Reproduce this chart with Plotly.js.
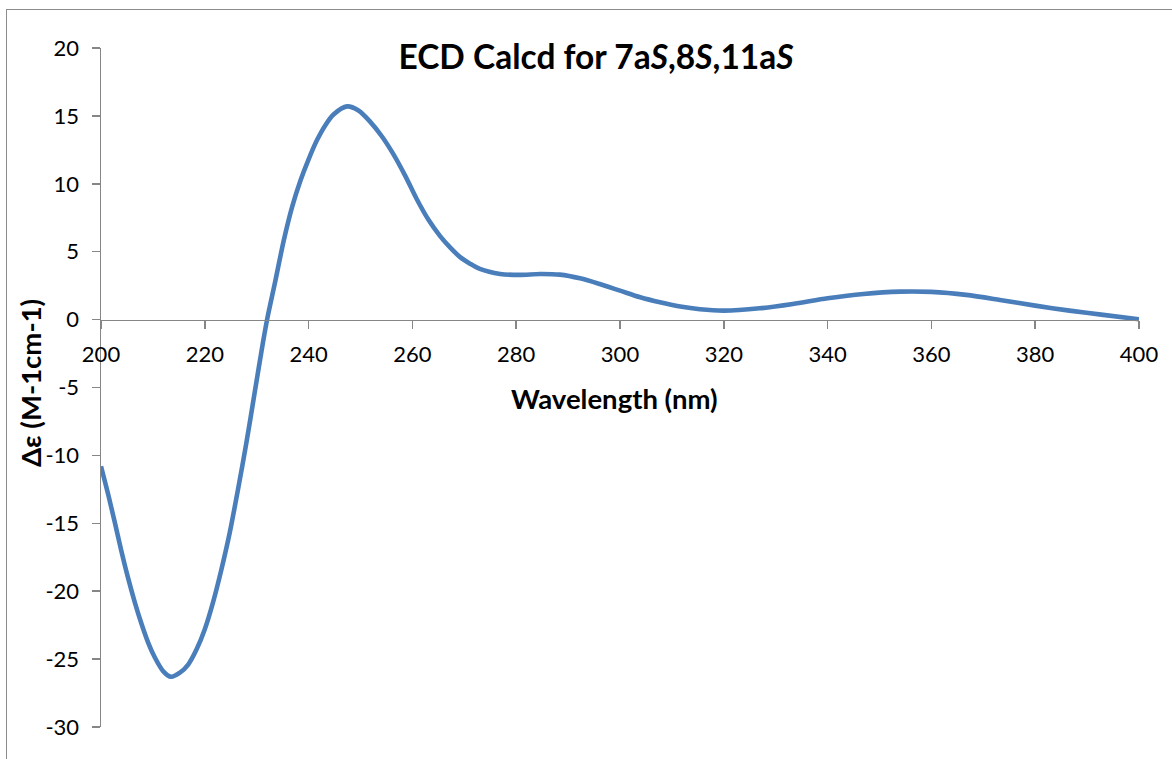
<!DOCTYPE html>
<html>
<head>
<meta charset="utf-8">
<script src="https://cdn.plot.ly/plotly-3.0.1.min.js"></script>
<style>
  html, body { margin: 0; padding: 0; background: #ffffff; }
  #frame {
    position: absolute; left: 6px; top: 9px; width: 1200px; height: 800px;
    border: 1.5px solid #8c8c8c; box-sizing: border-box;
  }
  #chart { position: absolute; left: 0; top: 0; width: 1172px; height: 759px; }
</style>
</head>
<body>
<div id="frame"></div>
<div id="chart"></div>
<script>
// Calculated ECD spectrum (wavelength in nm, Δε in M-1cm-1)
const wavelength = [200, 201.4, 202.7, 203.9, 205.2, 206.5, 207.8, 209.1, 210.4, 212.0,
  213.5, 215.2, 216.8, 218.4, 220.0, 221.6, 223.2, 224.8, 226.4, 228.0,
  229.6, 231.2, 232.0, 233.6, 235.2, 236.8, 238.4, 240.0, 241.6, 243.2,
  244.8, 247.4, 249.6, 251.8, 254.1, 256.3, 258.6, 260.8, 263.1, 265.3,
  267.3, 269.2, 271.1, 273.0, 276.9, 280.7, 284.6, 288.4, 292.3, 296.1,
  300.0, 303.9, 307.7, 311.6, 315.4, 320.0, 326.9, 333.3, 340.0, 346.9,
  354.0, 360.0, 366.7, 373.2, 380.0, 386.6, 393.1, 400];
const deltaEpsilon = [-10.8, -12.9, -15.0, -17.0, -19.0, -20.8, -22.4, -23.8, -24.9, -25.9,
  -26.3, -26.0, -25.4, -24.3, -22.8, -20.8, -18.4, -15.7, -12.5, -9.1,
  -5.4, -1.7, 0.0, 2.86, 5.8, 8.26, 10.2, 11.8, 13.2, 14.3,
  15.1, 15.7, 15.4, 14.6, 13.5, 12.2, 10.6, 8.9, 7.35, 6.17,
  5.3, 4.6, 4.12, 3.73, 3.36, 3.29, 3.36, 3.31, 3.04, 2.62,
  2.13, 1.64, 1.27, 0.96, 0.76, 0.66, 0.83, 1.15, 1.57, 1.89,
  2.06, 2.04, 1.82, 1.45, 1.03, 0.66, 0.35, 0.02];

const xTicks = [200, 220, 240, 260, 280, 300, 320, 340, 360, 380, 400];
const yTicks = [20, 15, 10, 5, 0, -5, -10, -15, -20, -25, -30];

const chartTitle = 'ECD Calcd for 7a<i>S</i>,8<i>S</i>,11a<i>S</i>';
const xTitle = 'Wavelength (nm)';
const yTitle = 'Δε (M-1cm-1)';

const FONT = 'Lato, "Open Sans", "Liberation Sans", sans-serif';
const AXIS_GREY = '#868686';

const trace = {
  x: wavelength,
  y: deltaEpsilon,
  type: 'scatter',
  mode: 'lines',
  line: { color: '#4A7EBB', width: 4.6, shape: 'spline', smoothing: 0.8 },
  hoverinfo: 'x+y'
};

const layout = {
  width: 1172,
  height: 759,
  paper_bgcolor: 'rgba(0,0,0,0)',
  plot_bgcolor: 'rgba(0,0,0,0)',
  margin: { l: 101, r: 32.5, t: 48, b: 32, pad: 0 },
  showlegend: false,
  font: { family: FONT, color: '#000000', size: 22 },
  title: {
    text: '<b>' + chartTitle + '</b>',
    font: { family: FONT, size: 33.5, color: '#000000' },
    xref: 'container', x: 596 / 1172, xanchor: 'center',
    yref: 'container', y: 1 - 57 / 759, yanchor: 'middle'
  },
  xaxis: {
    range: [200, 400],
    tickvals: xTicks,
    ticktext: xTicks.map(String),
    anchor: 'free',
    position: 0.6,
    showline: true, linecolor: AXIS_GREY, linewidth: 1.5,
    ticks: 'outside', ticklen: 8, tickwidth: 1.5, tickcolor: AXIS_GREY,
    showgrid: false, zeroline: false,
    tickfont: { family: FONT, size: 22, color: '#000000' },
    ticklabelstandoff: 6
  },
  yaxis: {
    range: [-30, 20],
    tickvals: yTicks,
    ticktext: yTicks.map(String),
    showline: true, linecolor: AXIS_GREY, linewidth: 1.5,
    ticks: 'outside', ticklen: 8, tickwidth: 1.5, tickcolor: AXIS_GREY,
    showgrid: false, zeroline: false,
    tickfont: { family: FONT, size: 22, color: '#000000' },
    ticklabelstandoff: 8
  },
  annotations: [
    {
      text: '<b>' + xTitle + '</b>',
      xref: 'x', yref: 'y', x: 299, y: -5.8,
      xanchor: 'center', yanchor: 'middle', showarrow: false,
      font: { family: FONT, size: 27.5, color: '#000000' }
    },
    {
      text: '<b>' + yTitle + '</b>',
      xref: 'paper', yref: 'paper', x: (30 - 101) / 1038.5, y: (727 - 383) / 679,
      xanchor: 'center', yanchor: 'middle', showarrow: false, textangle: -90,
      font: { family: FONT, size: 27.5, color: '#000000' }
    }
  ]
};

Plotly.newPlot('chart', [trace], layout, { displayModeBar: false, staticPlot: true });
</script>
</body>
</html>
